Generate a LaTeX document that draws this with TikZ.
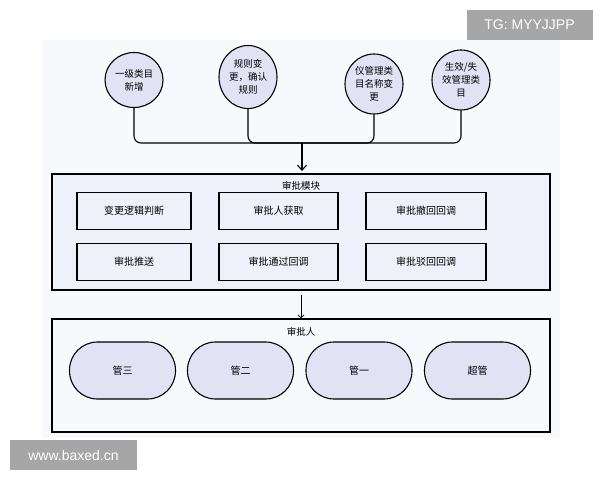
\documentclass[tikz,border=0pt]{standalone}
\usepackage{fontspec}
\setmainfont{Noto Sans CJK SC}
\newfontfamily\wm{Liberation Sans}
\usetikzlibrary{shapes.geometric,arrows.meta}
\definecolor{bgc}{HTML}{F7F9FC}
\definecolor{boxc}{HTML}{EEF1FA}
\definecolor{cfill}{HTML}{E3E1F4}
\definecolor{wmg}{HTML}{A6A6A6}
\begin{document}
\begin{tikzpicture}[x=1pt,y=-1pt,
  circ/.style={ellipse,draw,line width=1.1pt,fill=cfill,minimum width=58pt,align=center,font=\fontsize{9.5}{13}\selectfont,inner sep=0pt},
  item/.style={draw,line width=1.1pt,minimum height=37pt,font=\fontsize{10}{12}\selectfont,fill=boxc},
  stad/.style={draw,line width=1.1pt,rounded corners=28pt,fill=cfill,minimum width=106pt,minimum height=57pt,font=\fontsize{10}{12}\selectfont},
  grp/.style={draw,line width=1.1pt},
  conn/.style={line width=1.1pt,rounded corners=7pt},
  wmk/.style={fill=wmg,text=white,font=\wm\fontsize{14}{16}\selectfont,inner sep=0pt}]
\useasboundingbox (0,0) rectangle (600,480);
\fill[white] (0,0) rectangle (600,480);
\fill[bgc] (42,40) rectangle (560,438);
% circles
\node[circ,minimum height=55pt] (c1) at (134,80) {一级类目\\新增};
\node[circ,minimum height=63pt] (c2) at (248,77) {规则变\\更，确认\\规则};
\node[circ,minimum height=60pt] (c3) at (374,84) {仪管理类\\目名称变\\更};
\node[circ,minimum height=60pt] (c4) at (461,80) {生效/失\\效管理类\\目};
\coordinate (m) at (302,143);
\coordinate (mt) at (302,171);
\draw[conn] (c1.south) |- (m);
\draw[conn] (c2.south) |- (m);
\draw[conn] (c3.south) |- (m);
\draw[conn] (c4.south) |- (m);
\draw[line width=1.1pt,-{Straight Barb[length=5pt,width=9pt]}] (m) -- (mt);
% module box
\node[grp,fill=boxc,minimum width=498pt,minimum height=116pt] (mod) at (301,232) {};
\node[font=\fontsize{9.5}{11}\selectfont] (modt) at (301,186) {审批模块};
\node[item,minimum width=114pt] (b1) at (134,211) {变更逻辑判断};
\node[item,minimum width=119pt] (b2) at (278.5,211) {审批人获取};
\node[item,minimum width=120pt] (b3) at (426,211) {审批撤回回调};
\node[item,minimum width=114pt] (b4) at (134,262) {审批推送};
\node[item,minimum width=119pt] (b5) at (278.5,262) {审批通过回调};
\node[item,minimum width=120pt] (b6) at (426,262) {审批驳回回调};
% approver box
\node[grp,fill=bgc,minimum width=498pt,minimum height=113pt] (app) at (301,375.5) {};
\node[font=\fontsize{9.5}{11}\selectfont] (appt) at (301,332) {审批人};
\draw[line width=0.8pt,-{Straight Barb[length=3pt,width=6pt]}] (mod.south) ++(0,4) coordinate (a0) (a0) -- (app.north);
\node[stad] (s1) at (122.5,370.5) {管三};
\node[stad] (s2) at (240.5,370.5) {管二};
\node[stad] (s3) at (359,370.5) {管一};
\node[stad] (s4) at (477.5,370.5) {超管};
% watermarks
\node[wmk,minimum width=126pt,minimum height=30pt] (w1) at (529.5,25) {TG: MYYJJPP};
\node[wmk,minimum width=127pt,minimum height=30pt] (w2) at (73.5,455) {www.baxed.cn};
\end{tikzpicture}
\end{document}
